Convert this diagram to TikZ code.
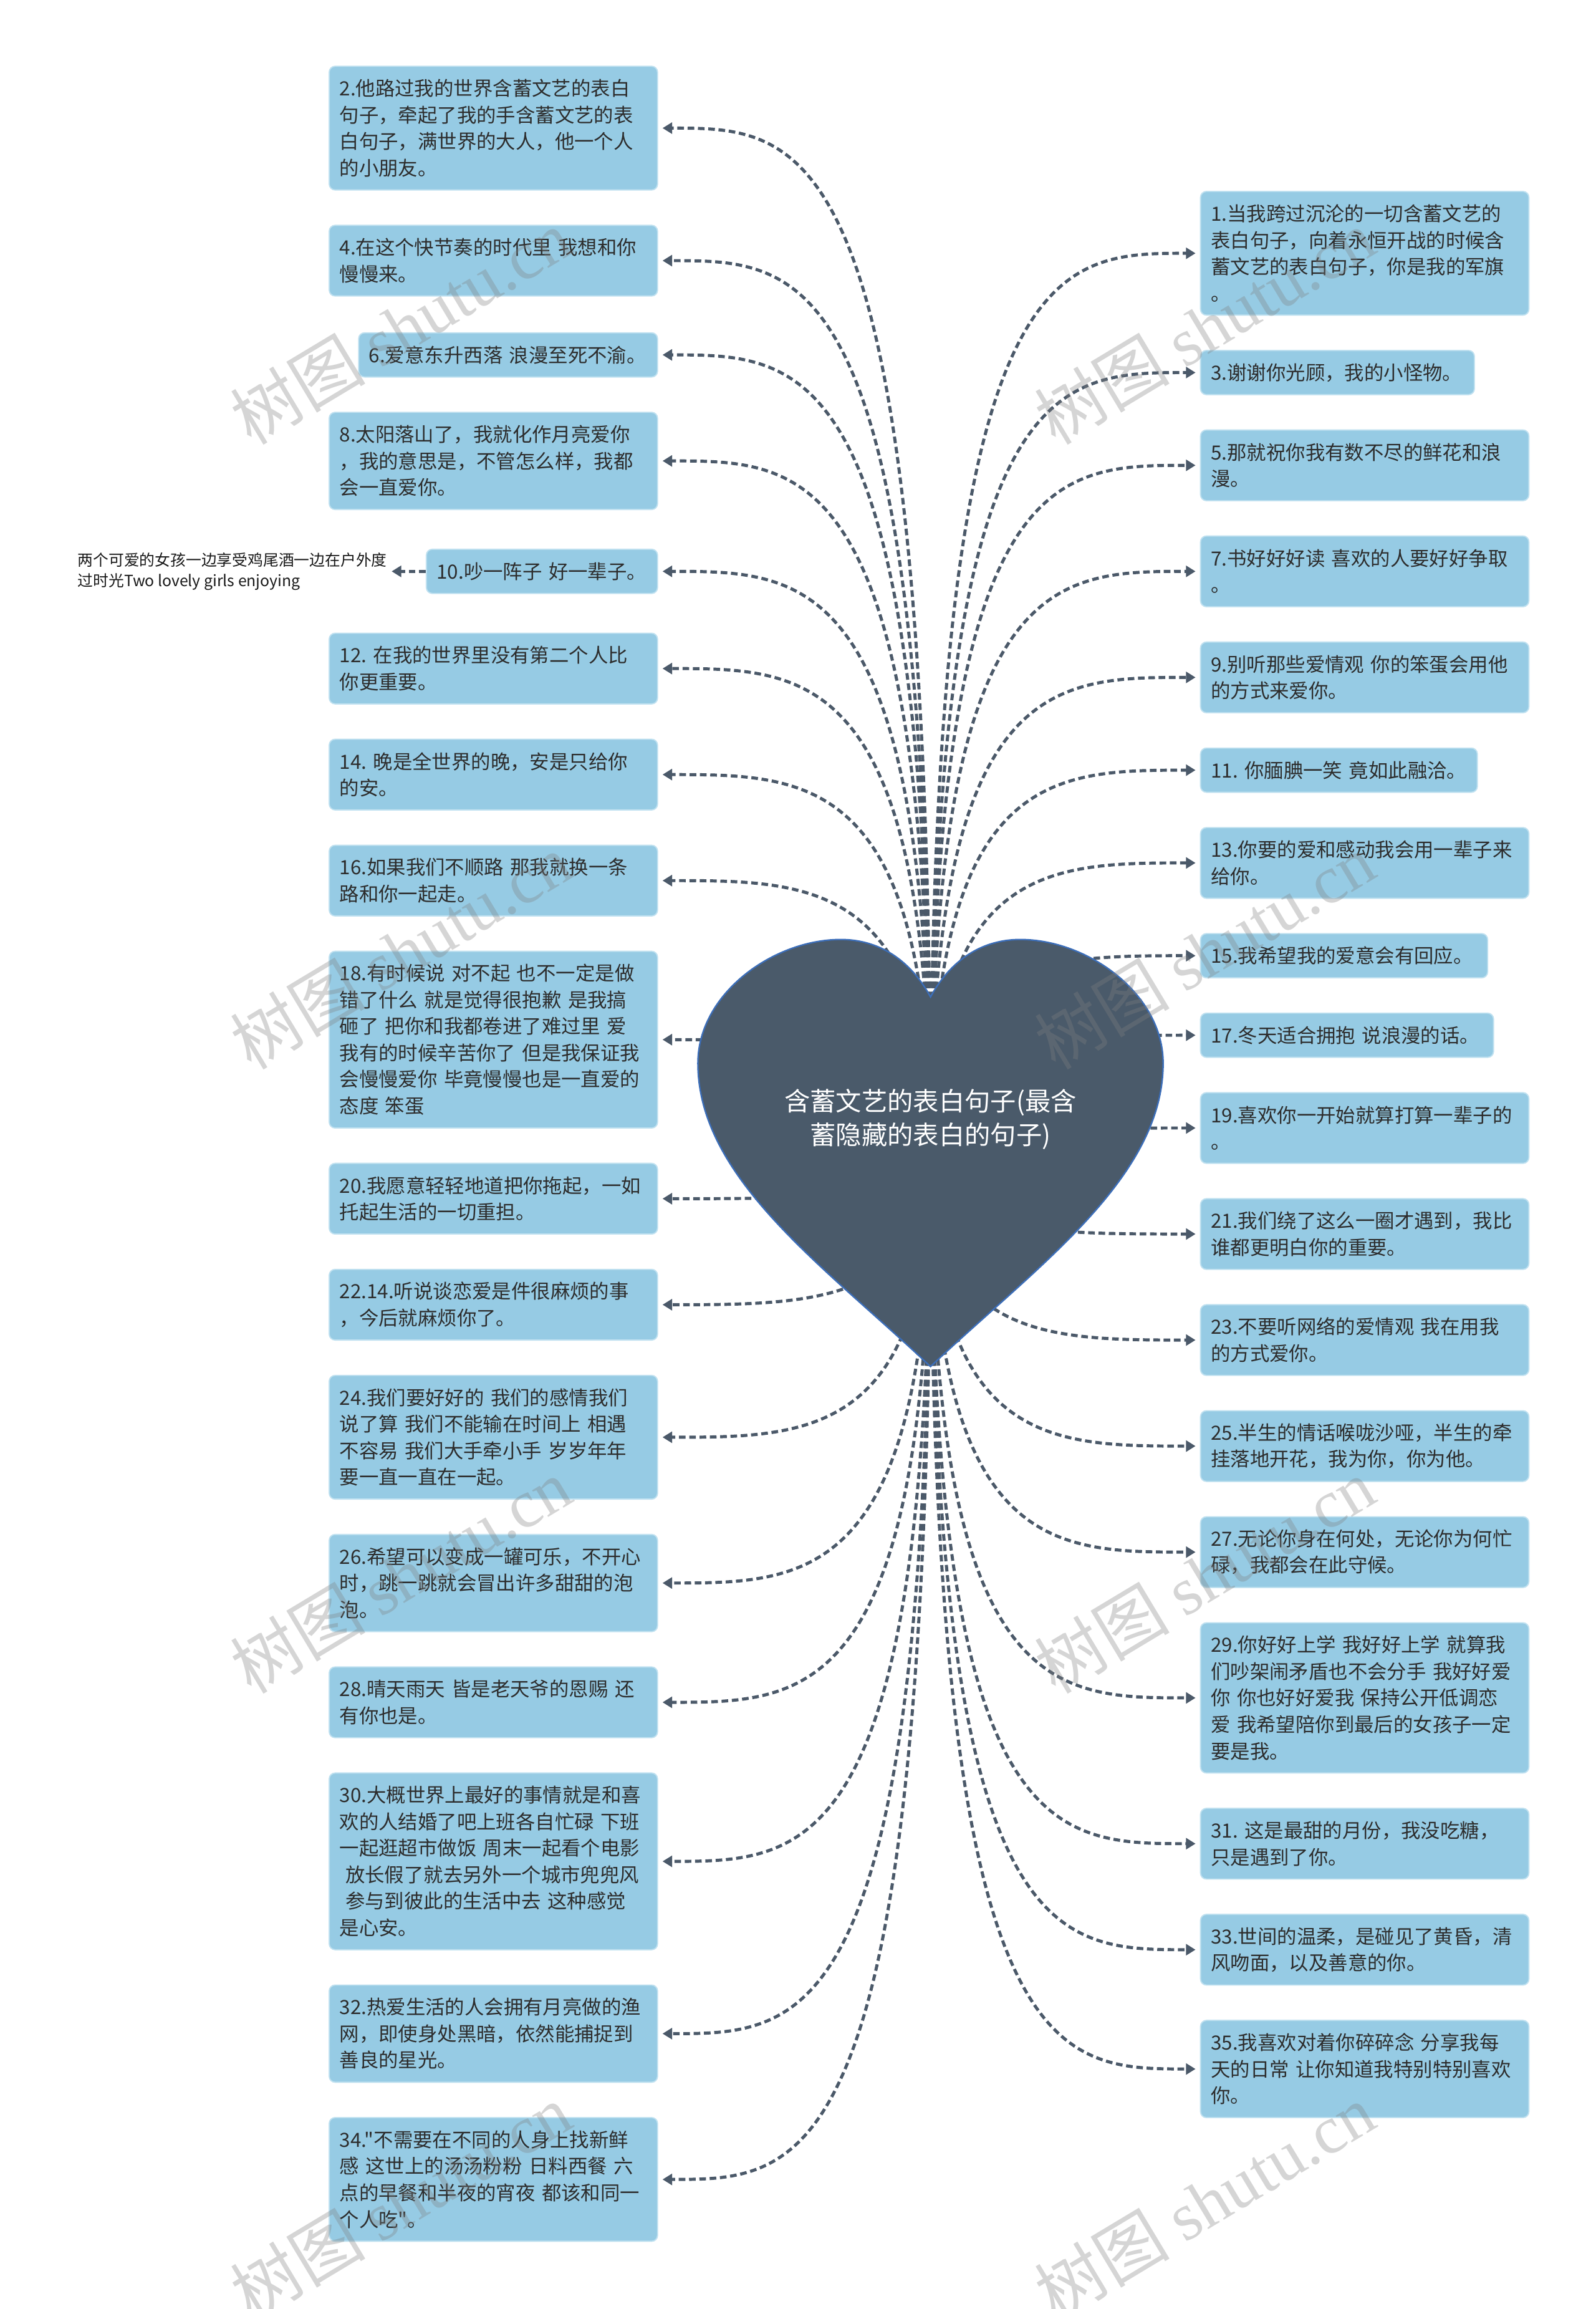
\documentclass[tikz,border=0pt]{standalone}
\usepackage{fontspec}
\setmainfont{Noto Sans CJK SC}[Ligatures=TeXOff]
\newfontfamily\wmserif{Liberation Serif}
\usetikzlibrary{arrows.meta,calc}
\definecolor{boxfill}{RGB}{150,203,228}
\definecolor{boxedge}{RGB}{192,225,240}
\definecolor{txt}{RGB}{45,45,45}
\definecolor{linec}{RGB}{75,89,105}
\definecolor{heartfill}{RGB}{74,90,106}
\definecolor{heartedge}{RGB}{60,110,185}
\pgfdeclarelayer{bg}
\pgfsetlayers{bg,main}
\newcommand\boxfont{\fontsize{13.3}{18}\selectfont}
\newcommand\lconn[1]{\draw[conn] (root) .. controls (root |- #1.east) and ($(root |- #1.east)!0.45!(#1.east)$) .. ([xshift=3pt]#1.east);}
\newcommand\rconn[1]{\draw[conn] (root) .. controls (root |- #1.west) and ($(root |- #1.west)!0.45!(#1.west)$) .. ([xshift=-3pt]#1.west);}
\begin{document}
\begin{tikzpicture}[x=1pt,y=-1pt,
  tbox/.style={draw=boxedge, line width=0.8pt, fill=boxfill, rounded corners=4pt, text=txt, font=\boxfont, align=left, inner xsep=7pt, inner ysep=0pt, text width=209pt},
  lbox/.style={tbox, anchor=east},
  rbox/.style={tbox, anchor=west},
  conn/.style={draw=linec, line width=2.1pt, dash pattern=on 4.5pt off 2.5pt, -{Triangle[length=6.5pt,width=7.5pt]}},
  wmark/.style={rotate=31, text=black!50, opacity=0.33, font=\fontsize{46}{46}\selectfont, inner sep=0pt}
]
\useasboundingbox (0,0) rectangle (1084,1568);
\begin{pgfonlayer}{bg}
\fill[white] (0,0) rectangle (1084,1568);
\end{pgfonlayer}

% heart
\path[fill=heartfill, draw=heartedge, line width=1pt]
  (632,677) .. controls (620,655) and (600,638) .. (571,638)
  .. controls (525,638) and (474,675) .. (474,722)
  .. controls (474,800) and (560,860) .. (632,928)
  .. controls (704,860) and (790,800) .. (790,722)
  .. controls (790,675) and (739,638) .. (693,638)
  .. controls (664,638) and (644,655) .. (632,677) -- cycle;
\coordinate (root) at (632,783);
\node[font=\fontsize{17.5}{23}\selectfont, text=white, align=center] (title) at (632,760) {含蓄文艺的表白句子(最含\\蓄隐藏的表白的句子)};

% left boxes
\node[lbox, minimum height=84pt] (b2) at (447,87) {2.他路过我的世界含蓄文艺的表白\\句子，牵起了我的手含蓄文艺的表\\白句子，满世界的大人，他一个人\\的小朋友。};
\node[lbox, minimum height=48pt] (b4) at (447,177) {4.在这个快节奏的时代里~我想和你\\慢慢来。};
\node[lbox, minimum height=30pt, text width=189pt] (b6) at (447,241) {6.爱意东升西落~浪漫至死不渝。};
\node[lbox, minimum height=66pt] (b8) at (447,313) {8.太阳落山了，我就化作月亮爱你\\，我的意思是，不管怎么样，我都\\会一直爱你。};
\node[lbox, minimum height=30pt, text width=143pt] (b10) at (447,388) {10.吵一阵子~好一辈子。};
\node[lbox, minimum height=48pt] (b12) at (447,454) {12.~在我的世界里没有第二个人比\\你更重要。};
\node[lbox, minimum height=48pt] (b14) at (447,526) {14.~晚是全世界的晚，安是只给你\\的安。};
\node[lbox, minimum height=48pt] (b16) at (447,598) {16.如果我们不顺路~那我就换一条\\路和你一起走。};
\node[lbox, minimum height=120pt] (b18) at (447,706) {18.有时候说~对不起~也不一定是做\\错了什么~就是觉得很抱歉~是我搞\\砸了~把你和我都卷进了难过里~爱\\我有的时候辛苦你了~但是我保证我\\会慢慢爱你~毕竟慢慢也是一直爱的\\态度~笨蛋};
\node[lbox, minimum height=48pt] (b20) at (447,814) {20.我愿意轻轻地道把你拖起，一如\\托起生活的一切重担。};
\node[lbox, minimum height=48pt] (b22) at (447,886) {22.14.听说谈恋爱是件很麻烦的事\\，今后就麻烦你了。};
\node[lbox, minimum height=84pt] (b24) at (447,976) {24.我们要好好的~我们的感情我们\\说了算~我们不能输在时间上~相遇\\不容易~我们大手牵小手~岁岁年年\\要一直一直在一起。};
\node[lbox, minimum height=66pt] (b26) at (447,1075) {26.希望可以变成一罐可乐，不开心\\时，跳一跳就会冒出许多甜甜的泡\\泡。};
\node[lbox, minimum height=48pt] (b28) at (447,1156) {28.晴天雨天~皆是老天爷的恩赐~还\\有你也是。};
\node[lbox, minimum height=120pt] (b30) at (447,1264) {30.大概世界上最好的事情就是和喜\\欢的人结婚了吧上班各自忙碌~下班\\一起逛超市做饭~周末一起看个电影\\\hspace*{0.3em}放长假了就去另外一个城市兜兜风\\\hspace*{0.3em}参与到彼此的生活中去~这种感觉\\是心安。};
\node[lbox, minimum height=66pt] (b32) at (447,1381) {32.热爱生活的人会拥有月亮做的渔\\网，即使身处黑暗，依然能捕捉到\\善良的星光。};
\node[lbox, minimum height=84pt] (b34) at (447,1480) {34."不需要在不同的人身上找新鲜\\感~这世上的汤汤粉粉~日料西餐~六\\点的早餐和半夜的宵夜~都该和同一\\个人吃"。};

% note
\node[anchor=east, inner sep=0pt, align=left, text=black!90, font=\fontsize{10.5}{14}\selectfont] (note) at (263,388) {两个可爱的女孩一边享受鸡尾酒一边在户外度\\过时光Two lovely girls enjoying};

% right boxes
\node[rbox, minimum height=84pt] (b1) at (815,172) {1.当我跨过沉沦的一切含蓄文艺的\\表白句子，向着永恒开战的时候含\\蓄文艺的表白句子，你是我的军旗\\。};
\node[rbox, minimum height=30pt, text width=172pt] (b3) at (815,253) {3.谢谢你光顾，我的小怪物。};
\node[rbox, minimum height=48pt] (b5) at (815,316) {5.那就祝你我有数不尽的鲜花和浪\\漫。};
\node[rbox, minimum height=48pt] (b7) at (815,388) {7.书好好好读~喜欢的人要好好争取\\。};
\node[rbox, minimum height=48pt] (b9) at (815,460) {9.别听那些爱情观~你的笨蛋会用他\\的方式来爱你。};
\node[rbox, minimum height=30pt, text width=174pt] (b11) at (815,523) {11.~你腼腆一笑~竟如此融洽。};
\node[rbox, minimum height=48pt] (b13) at (815,586) {13.你要的爱和感动我会用一辈子来\\给你。};
\node[rbox, minimum height=30pt, text width=181pt] (b15) at (815,649) {15.我希望我的爱意会有回应。};
\node[rbox, minimum height=30pt, text width=185pt] (b17) at (815,703) {17.冬天适合拥抱~说浪漫的话。};
\node[rbox, minimum height=48pt] (b19) at (815,766) {19.喜欢你一开始就算打算一辈子的\\。};
\node[rbox, minimum height=48pt] (b21) at (815,838) {21.我们绕了这么一圈才遇到，我比\\谁都更明白你的重要。};
\node[rbox, minimum height=48pt] (b23) at (815,910) {23.不要听网络的爱情观~我在用我\\的方式爱你。};
\node[rbox, minimum height=48pt] (b25) at (815,982) {25.半生的情话喉咙沙哑，半生的牵\\挂落地开花，我为你，你为他。};
\node[rbox, minimum height=48pt] (b27) at (815,1054) {27.无论你身在何处，无论你为何忙\\碌，我都会在此守候。};
\node[rbox, minimum height=102pt] (b29) at (815,1153) {29.你好好上学~我好好上学~就算我\\们吵架闹矛盾也不会分手~我好好爱\\你~你也好好爱我~保持公开低调恋\\爱~我希望陪你到最后的女孩子一定\\要是我。};
\node[rbox, minimum height=48pt] (b31) at (815,1252) {31.~这是最甜的月份，我没吃糖，\\只是遇到了你。};
\node[rbox, minimum height=48pt] (b33) at (815,1324) {33.世间的温柔，是碰见了黄昏，清\\风吻面，以及善意的你。};
\node[rbox, minimum height=66pt] (b35) at (815,1405) {35.我喜欢对着你碎碎念~分享我每\\天的日常~让你知道我特别特别喜欢\\你。};

% connectors
\begin{pgfonlayer}{bg}
\foreach \b in {b2,b4,b6,b8,b10,b12,b14,b16,b18,b20,b22,b24,b26,b28,b30,b32,b34} {\lconn{\b}}
\foreach \b in {b1,b3,b5,b7,b9,b11,b13,b15,b17,b19,b21,b23,b25,b27,b29,b31,b33,b35} {\rconn{\b}}
\draw[conn] (b10.west) -- ([xshift=3pt]note.east);
\end{pgfonlayer}

% watermarks
\node[wmark] (wm1) at (272,222) {树图 {\wmserif shutu.cn}};
\node[wmark] (wm2) at (818,222) {树图 {\wmserif shutu.cn}};
\node[wmark] (wm3) at (272,646) {树图 {\wmserif shutu.cn}};
\node[wmark] (wm4) at (818,646) {树图 {\wmserif shutu.cn}};
\node[wmark] (wm5) at (272,1070) {树图 {\wmserif shutu.cn}};
\node[wmark] (wm6) at (818,1070) {树图 {\wmserif shutu.cn}};
\node[wmark] (wm7) at (272,1495) {树图 {\wmserif shutu.cn}};
\node[wmark] (wm8) at (818,1495) {树图 {\wmserif shutu.cn}};
\end{tikzpicture}
\end{document}
